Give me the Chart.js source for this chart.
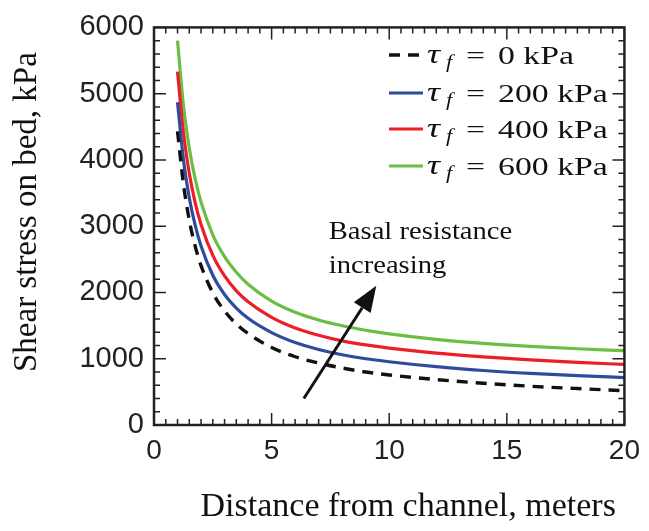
<!DOCTYPE html>
<html>
<head>
<meta charset="utf-8">
<script src="https://cdn.jsdelivr.net/npm/chart.js@4"></script>
<style>
  html, body { margin: 0; padding: 0; background: #fff; }
  #wrap { width: 649px; height: 531px; }
</style>
</head>
<body>
<div id="wrap"><canvas id="stressChart" width="649" height="531"></canvas></div>
<script>
// valores
const distance = [1, 1.25, 1.5, 1.75, 2, 2.5, 3, 3.5, 4, 5, 6, 7, 8, 9, 10, 12, 14, 16, 18, 20];
const stress0 = [4430, 3640, 3090, 2700, 2405, 1995, 1720, 1525, 1380, 1170, 1030, 935, 860, 800, 755, 685, 630, 585, 550, 518];
const stress200 = [4870, 4010, 3430, 3015, 2700, 2260, 1970, 1765, 1610, 1395, 1245, 1140, 1060, 1000, 955, 880, 822, 778, 744, 716];
const stress400 = [5333, 4420, 3800, 3355, 3025, 2560, 2250, 2025, 1860, 1625, 1465, 1355, 1270, 1208, 1160, 1085, 1028, 982, 945, 914];
const stress600 = [5800, 4830, 4180, 3715, 3365, 2870, 2540, 2305, 2125, 1870, 1702, 1585, 1497, 1430, 1376, 1293, 1233, 1187, 1151, 1121];
const tauLabels = ['0', '200', '400', '600'];
const xTicks = [0, 5, 10, 15, 20];
const yTicks = [0, 1000, 2000, 3000, 4000, 5000, 6000];

const colores = ['#111111', '#2f4b9c', '#ec1f26', '#6bbd45'];
const series = [stress0, stress200, stress400, stress600];

const serif = "'Liberation Serif', 'Times New Roman', serif";
const sans = "'Liberation Sans', Arial, sans-serif";

function puntos(vals) {
  return distance.map((x, i) => ({ x: x, y: vals[i] }));
}

// marco con ticks hacia adentro en los cuatro lados
const marco = {
  id: 'marco',
  afterDatasetsDraw(chart) {
    const { ctx, chartArea: a, scales } = chart;
    ctx.save();
    ctx.strokeStyle = '#222';
    ctx.lineWidth = 1.5;
    ctx.beginPath();
    for (let v = 0; v <= 20.001; v += 0.5) {
      const px = scales.x.getPixelForValue(v);
      const len = (Math.abs(v % 5) < 0.001) ? 12 : 6;
      ctx.moveTo(px, a.bottom); ctx.lineTo(px, a.bottom - len);
      ctx.moveTo(px, a.top); ctx.lineTo(px, a.top + len);
    }
    for (let v = 0; v <= 6000; v += 200) {
      const py = scales.y.getPixelForValue(v);
      const len = (v % 1000 === 0) ? 12 : 6;
      ctx.moveTo(a.left, py); ctx.lineTo(a.left + len, py);
      ctx.moveTo(a.right, py); ctx.lineTo(a.right - len, py);
    }
    ctx.stroke();
    ctx.lineWidth = 2.5;
    ctx.strokeRect(a.left, a.top, a.right - a.left, a.bottom - a.top);
    ctx.restore();
  }
};

function textoAncho(ctx, txt, x, y, sx) {
  ctx.save();
  ctx.translate(x, y);
  ctx.scale(sx, 1);
  ctx.fillText(txt, 0, 0);
  ctx.restore();
}

// leyenda con tau_f y la flecha de anotacion
const extras = {
  id: 'extras',
  afterDraw(chart) {
    const { ctx, scales } = chart;
    ctx.save();
    ctx.fillStyle = '#111';
    ctx.textBaseline = 'alphabetic';
    ctx.textAlign = 'left';
    const filas = [55, 93, 129, 166];
    chart.data.datasets.forEach((ds, i) => {
      const y = filas[i];
      ctx.strokeStyle = ds.borderColor;
      ctx.lineWidth = ds.borderWidth;
      ctx.setLineDash(ds.borderDash || []);
      ctx.beginPath();
      ctx.moveTo(389, y); ctx.lineTo(423, y);
      ctx.stroke();
      ctx.setLineDash([]);
      ctx.font = 'italic 28px ' + serif;
      textoAncho(ctx, 'τ', 427, y + 8, 1.3);
      ctx.font = 'italic 19px ' + serif;
      textoAncho(ctx, 'f', 446, y + 13, 1.2);
      ctx.font = '26px ' + serif;
      textoAncho(ctx, '=', 466, y + 9, 1.3);
      textoAncho(ctx, tauLabels[i] + ' kPa', 498, y + 9, 1.3);
    });

    const x = scales.x, yS = scales.y;
    ctx.font = '26px ' + serif;
    textoAncho(ctx, 'Basal resistance', x.getPixelForValue(7.43), yS.getPixelForValue(2800), 1.1);
    textoAncho(ctx, 'increasing', x.getPixelForValue(7.43), yS.getPixelForValue(2300), 1.1);

    const x0 = x.getPixelForValue(6.37), y0 = yS.getPixelForValue(400);
    const x1 = x.getPixelForValue(9.45), y1 = yS.getPixelForValue(2100);
    const ang = Math.atan2(y1 - y0, x1 - x0);
    const largo = 26, ancho = 10;
    const bx = x1 - largo * Math.cos(ang), by = y1 - largo * Math.sin(ang);
    ctx.strokeStyle = '#111';
    ctx.lineWidth = 3;
    ctx.beginPath();
    ctx.moveTo(x0, y0); ctx.lineTo(bx, by);
    ctx.stroke();
    ctx.beginPath();
    ctx.moveTo(x1, y1);
    ctx.lineTo(bx + ancho * Math.sin(ang), by - ancho * Math.cos(ang));
    ctx.lineTo(bx - ancho * Math.sin(ang), by + ancho * Math.cos(ang));
    ctx.closePath();
    ctx.fill();
    ctx.restore();
  }
};

const ctx = document.getElementById('stressChart').getContext('2d');
const stressChart = new Chart(ctx, {
  type: 'line',
  data: {
    datasets: series.map((vals, i) => ({
      label: 'tau_f = ' + tauLabels[i] + ' kPa',
      data: puntos(vals),
      borderColor: colores[i],
      backgroundColor: colores[i],
      borderWidth: i === 0 ? 3.4 : 3.2,
      borderDash: i === 0 ? [11, 8] : [],
      pointRadius: 0,
      cubicInterpolationMode: 'monotone',
      fill: false
    }))
  },
  options: {
    responsive: false,
    animation: false,
    layout: { padding: { left: 0, right: 21, top: 20, bottom: 0 } },
    plugins: {
      legend: { display: false },
      tooltip: { enabled: false }
    },
    scales: {
      x: {
        type: 'linear',
        min: 0,
        max: 20,
        afterBuildTicks: s => { s.ticks = xTicks.map(v => ({ value: v })); },
        ticks: {
          font: { family: sans, size: 28 }, color: '#222', padding: 9, maxRotation: 0,
          callback: v => String(v)
        },
        grid: { display: false, drawTicks: false },
        border: { display: false },
        title: {
          display: true,
          text: 'Distance from channel, meters ',
          align: 'end',
          font: { family: serif, size: 34 },
          color: '#111',
          padding: { top: 0, bottom: 4 }
        },
        afterFit: s => { s.height = 106; }
      },
      y: {
        min: 0,
        max: 6000,
        afterBuildTicks: s => { s.ticks = yTicks.map(v => ({ value: v })); },
        ticks: {
          font: { family: sans, size: 29 }, color: '#222', padding: 10,
          callback: v => String(v)
        },
        grid: { display: false, drawTicks: false },
        border: { display: false },
        title: {
          display: true,
          text: 'Shear stress on bed, kPa   ',
          align: 'end',
          font: { family: serif, size: 33 },
          color: '#111',
          padding: { top: 8, bottom: 0 }
        },
        afterFit: s => { s.width = 154; }
      }
    }
  },
  plugins: [marco, extras]
});
</script>
</body>
</html>
